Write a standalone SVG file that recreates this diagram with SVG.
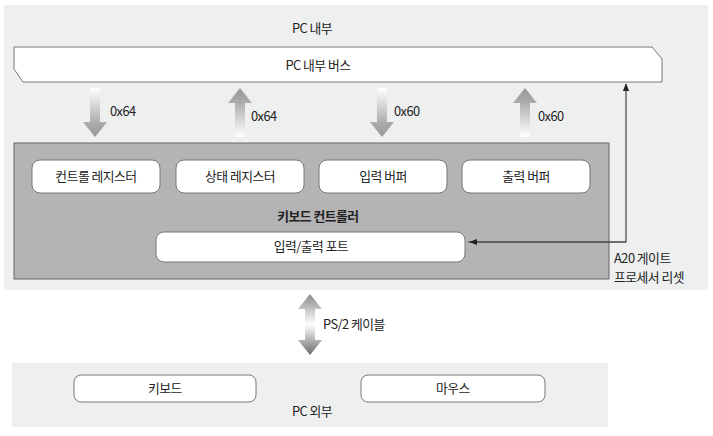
<svg xmlns="http://www.w3.org/2000/svg" width="713" height="436" viewBox="0 0 713 436">
<style>
text{font-family:"Noto Sans CJK KR","Liberation Sans",sans-serif;font-size:12.8px;fill:#222;text-anchor:middle;letter-spacing:-0.5px}
.l{text-anchor:start}
.b{font-weight:bold}
.panel{fill:#eeefef}
.box{fill:#fff;stroke:#777;stroke-width:1}
.wire{fill:none;stroke:#444;stroke-width:1.2}
</style>
<defs>
<linearGradient id="gDown" x1="0" y1="0" x2="0" y2="1"><stop offset="0" stop-color="#ffffff"/><stop offset="0.75" stop-color="#a8a8a8"/><stop offset="1" stop-color="#999"/></linearGradient>
<linearGradient id="gUp" x1="0" y1="1" x2="0" y2="0"><stop offset="0" stop-color="#ffffff"/><stop offset="0.75" stop-color="#a8a8a8"/><stop offset="1" stop-color="#999"/></linearGradient>
<linearGradient id="gBoth" x1="0" y1="0" x2="0" y2="1"><stop offset="0" stop-color="#8a8a8a"/><stop offset="0.5" stop-color="#ffffff"/><stop offset="1" stop-color="#6a6a6a"/></linearGradient>
<marker id="ah" viewBox="0 0 10 10" refX="9" refY="5" markerWidth="8" markerHeight="8" markerUnits="userSpaceOnUse" orient="auto"><path d="M0,1 L10,5 L0,9 Z" fill="#222"/></marker>
</defs>
<g id="pc-inside">
<rect class="panel" x="4" y="5" width="704" height="285"/>
<text x="312" y="33">PC 내부</text>
</g>
<g id="bus">
<path class="box" d="M14,47 H652 L662,59 V82 H23 L14,69 Z" stroke="#999"/>
<text x="318" y="70">PC 내부 버스</text>
</g>
<g id="controller">
<rect x="14" y="143" width="595" height="136" fill="#b4b4b4" stroke="#666" stroke-width="1"/>
<text class="b" x="318" y="221">키보드 컨트롤러</text>
</g>
<g id="ctrl-reg"><rect class="box" x="32" y="160" width="128" height="33" rx="8"/><text x="96" y="181">컨트롤 레지스터</text></g>
<g id="status-reg"><rect class="box" x="176" y="160" width="128" height="33" rx="8"/><text x="240" y="181">상태 레지스터</text></g>
<g id="in-buf"><rect class="box" x="319" y="160" width="128" height="33" rx="8"/><text x="383" y="181">입력 버퍼</text></g>
<g id="out-buf"><rect class="box" x="462" y="160" width="128" height="33" rx="8"/><text x="526" y="181">출력 버퍼</text></g>
<g id="io-port"><rect class="box" x="156" y="232" width="309" height="30" rx="8"/><text x="311" y="251">입력/출력 포트</text></g>
<g id="pc-outside">
<rect class="panel" x="12" y="363" width="596" height="64"/>
<text x="312" y="416">PC 외부</text>
</g>
<g id="keyboard"><rect class="box" x="74" y="375" width="182" height="27" rx="7"/><text x="165" y="393">키보드</text></g>
<g id="mouse"><rect class="box" x="361" y="375" width="184" height="27" rx="7"/><text x="453" y="393">마우스</text></g>
<g id="connectors">
<path d="M90,88 H100 V122 H107 L95,137 L83,122 H90 Z" fill="url(#gDown)"/>
<path d="M240,88 L252,103 H245 V137 H235 V103 H228 Z" fill="url(#gUp)"/>
<path d="M377,88 H387 V122 H394 L382,137 L370,122 H377 Z" fill="url(#gDown)"/>
<path d="M525,88 L537,103 H530 V137 H520 V103 H513 Z" fill="url(#gUp)"/>
<path d="M310,294 L322,309 H315 V340 H322 L310,355 L298,340 H305 V309 H298 Z" fill="url(#gBoth)"/>
<path class="wire" d="M468,242 H626 V84" marker-end="url(#ah)"/>
<path class="wire" d="M626,242 H470" marker-end="url(#ah)"/>
<text class="l" x="110" y="116">0x64</text>
<text class="l" x="251" y="121">0x64</text>
<text class="l" x="394" y="116">0x60</text>
<text class="l" x="538" y="121">0x60</text>
<text class="l" x="323" y="329">PS/2 케이블</text>
<text class="l" x="614" y="263">A20 게이트</text>
<text class="l" x="614" y="282">프로세서 리셋</text>
</g>
</svg>
